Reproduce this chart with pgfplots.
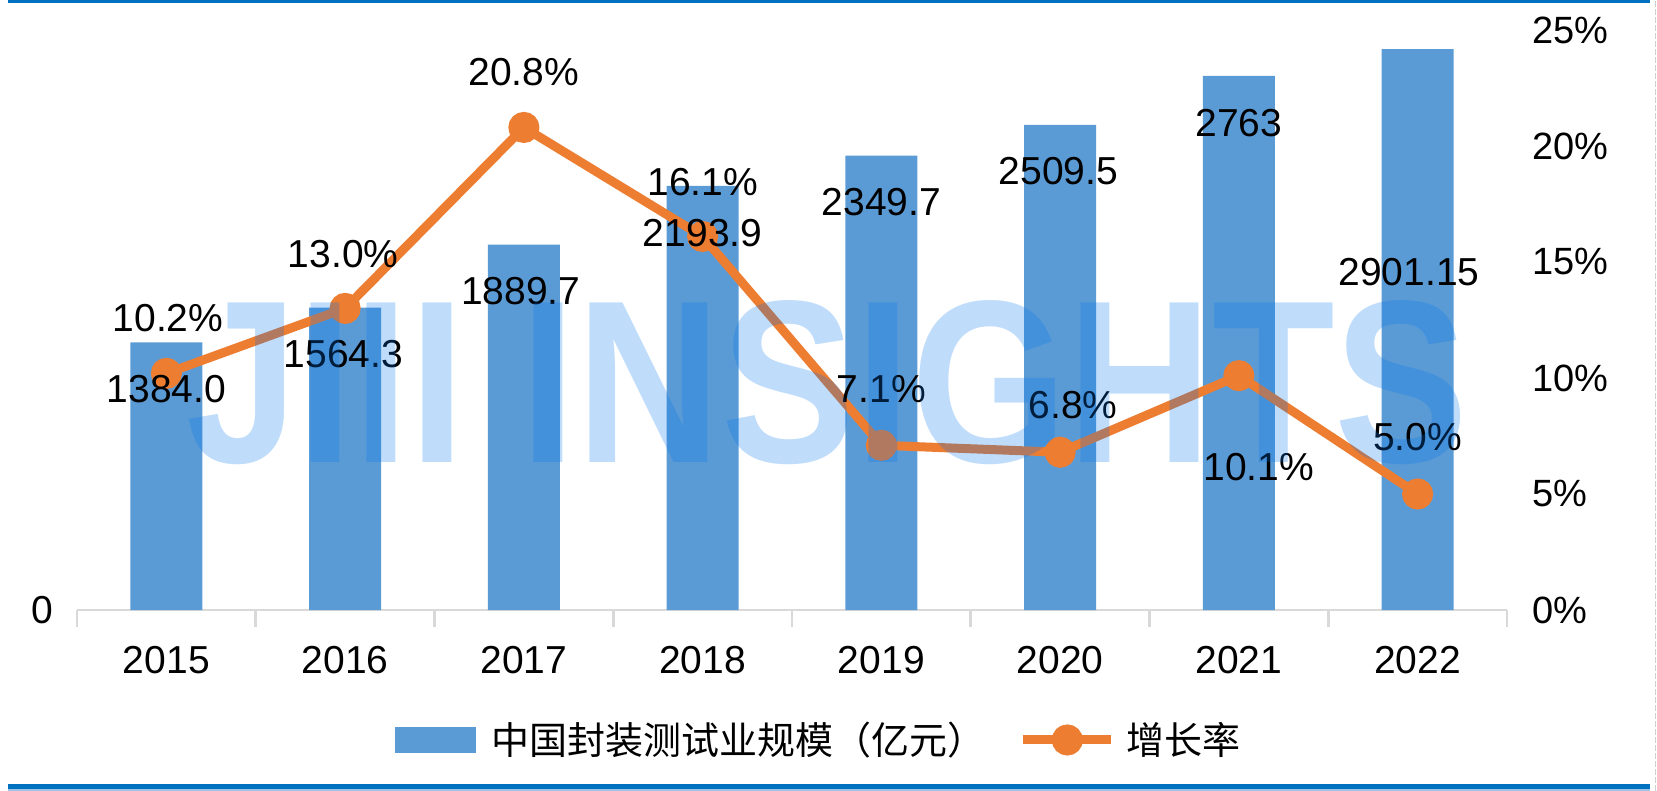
\documentclass[border=0pt]{standalone}
\usepackage{fontspec}
\setmainfont{Liberation Sans}
\newfontfamily\cjk{Noto Sans CJK SC}
\usepackage{graphicx}
\usepackage{pgfplots}
\usepackage{pgfplotstable}
\pgfplotsset{compat=1.18}
\definecolor{barblue}{RGB}{91,155,213}
\definecolor{lineorange}{RGB}{237,125,49}
\definecolor{axgray}{RGB}{217,217,217}
\definecolor{topblue}{RGB}{0,112,192}
\definecolor{wmblue}{RGB}{0,116,240}
\definecolor{paleblue}{RGB}{157,195,230}

% market size (100 million yuan)
\pgfplotstableread{
x y
0 1384.0
1 1564.3
2 1889.7
3 2193.9
4 2349.7
5 2509.5
6 2763
7 2901.15
}\sizetable
% label positions for the size values
\pgfplotstableread{
x y lab
0 1143 1384.0
0.99 1324 1564.3
1.983 1650 1889.7
3 1950 2193.9
4 2110 2349.7
4.99 2268 2509.5
6 2519 2763
6.952 1748 2901.15
}\sizelabels
% growth rate (%)
\pgfplotstableread{
x g
0 10.2
1 13.0
2 20.8
3 16.1
4 7.1
5 6.8
6 10.1
7 5.0
}\growthtable
% label positions for the growth values
\pgfplotstableread{
x y lab
0.009 12.59 10.2
0.989 15.34 13.0
2 23.19 20.8
3 18.45 16.1
4 9.53 7.1
5.073 8.83 6.8
6.112 6.18 10.1
7 7.46 5.0
}\growthlabels

\pgfplotsset{common/.style={width=715pt,height=290pt,scale only axis,
  at={(0pt,0pt)}, anchor=south west, xmin=-0.5, xmax=7.5, clip=false,
  /pgf/number format/assume math mode=true}}

\begin{document}
\begin{tikzpicture}[font=\fontsize{19.5}{23}\selectfont]
\path[use as bounding box] (-38.5pt,-90.5pt) rectangle (790pt,305pt);

\begin{axis}[common, ymin=0, ymax=3000,
  axis x line*=bottom, axis y line*=left,
  x axis line style={-, draw=axgray, line width=1.35pt},
  y axis line style={draw=none},
  xtick={0,...,7},
  xticklabels={2015,2016,2017,2018,2019,2020,2021,2022},
  minor xtick={-0.5,0.5,...,7.5},
  tick align=outside,
  major tick length=0pt, minor tick length=8.5pt,
  minor x tick style={draw=axgray, line width=1.35pt},
  major tick style={draw=none},
  ytick={0},
  xticklabel style={anchor=north, inner sep=0pt, yshift=-18pt},
  yticklabel style={anchor=east, inner sep=0pt, xshift=-11.5pt},
  tick label style={font=\fontsize{19.5}{23}\selectfont}]
\addplot[ybar, bar width=36pt, fill=barblue, draw=none] table[x=x,y=y]{\sizetable};
\end{axis}

\begin{axis}[common, ymin=0, ymax=25,
  axis y line*=right, axis x line=none,
  y axis line style={draw=none},
  ytick={0,5,...,25},
  major tick length=0pt, major tick style={draw=none},
  yticklabel={\pgfmathprintnumber{\tick}\%},
  yticklabel style={anchor=west, inner sep=0pt, xshift=12.5pt, font=\fontsize{19}{23}\selectfont},
  legend columns=2,
  legend style={at={(0.2224,-0.2241)}, anchor=west, draw=none, fill=none,
    inner sep=0pt, outer sep=0pt, font=\cjk\fontsize{19}{23}\selectfont,
    nodes={inner sep=0pt},
    /tikz/every odd column/.append style={column sep=5.5pt},
    /tikz/every even column/.append style={column sep=16.5pt}}]
\addlegendimage{legend image code/.code={\fill[barblue] (0pt,-6.25pt) rectangle (40pt,6.25pt); \path (42.5pt,0pt);}}
\addlegendentry{中国封装测试业规模（亿元）}
\addplot[lineorange, line width=4.5pt, mark=*, mark size=5.5pt,
  mark options={draw=none, fill=lineorange},
  legend image code/.code={\draw[lineorange, line width=4.5pt] (0pt,0pt) -- (44pt,0pt); \fill[lineorange] (22pt,0pt) circle (5.5pt);}]
  table[x=x, y=g]{\growthtable};
\addlegendentry{增长率}
\addplot[forget plot, draw=none, mark=none, point meta=explicit symbolic,
  nodes near coords={\pgfplotspointmeta\%},
  every node near coord/.append style={anchor=center, inner sep=0pt, text=black, font=\fontsize{19.5}{23}\selectfont}]
  table[x=x, y=y, meta=lab]{\growthlabels};
\end{axis}

\begin{axis}[common, ymin=0, ymax=3000, hide axis]
\addplot[draw=none, mark=none, point meta=explicit symbolic, nodes near coords,
  every node near coord/.append style={anchor=center, inner sep=0pt, text=black, font=\fontsize{19.5}{23}\selectfont}]
  table[x=x, y=y, meta=lab]{\sizelabels};
\end{axis}

\node[anchor=base west, inner sep=0pt, text=wmblue, opacity=0.25,
  font=\fontsize{116}{116}\selectfont\bfseries] at (54.5pt,73.5pt) {\scalebox{0.865}[1]{JIII INSIGHTS}};

\fill[topblue] (-34.5pt,303.25pt) rectangle (786.5pt,305pt);
\fill[topblue] (-34.5pt,-89.5pt) rectangle (786.5pt,-87pt);
\fill[paleblue] (-34.5pt,-90.5pt) rectangle (786.5pt,-89.5pt);
\draw[axgray!80!black!60, dash pattern=on 3pt off 1pt, line width=0.6pt] (789.2pt,-90.5pt) -- (789.2pt,305pt);
\end{tikzpicture}
\end{document}
